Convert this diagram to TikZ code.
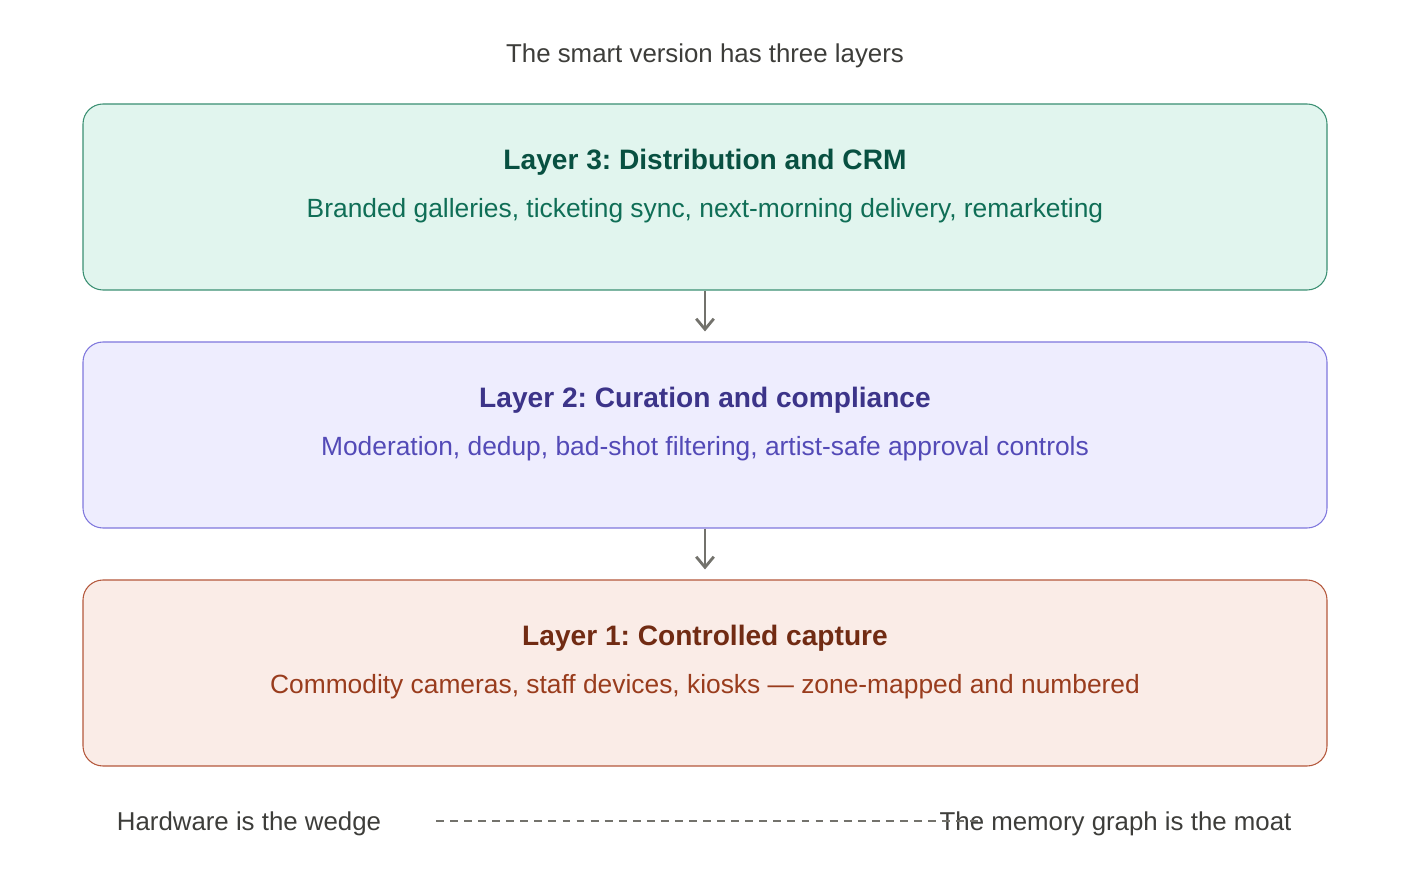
\documentclass[tikz,border=0pt]{standalone}
\usepackage{fontspec}
\setmainfont{Liberation Sans}
\usetikzlibrary{arrows.meta,positioning,calc}
\frenchspacing

\definecolor{inkgray}{HTML}{3D3D3A}
\definecolor{arrowgray}{HTML}{73726C}
\definecolor{greenfill}{HTML}{E1F5EE}
\definecolor{greenline}{HTML}{3A8F72}
\definecolor{greenhead}{HTML}{085041}
\definecolor{greentext}{HTML}{0F6E56}
\definecolor{purplefill}{HTML}{EEEDFE}
\definecolor{purpleline}{HTML}{7F77DD}
\definecolor{purplehead}{HTML}{3C3489}
\definecolor{purpletext}{HTML}{534AB7}
\definecolor{redfill}{HTML}{FAECE7}
\definecolor{redline}{HTML}{B4583C}
\definecolor{redhead}{HTML}{712B13}
\definecolor{redtext}{HTML}{993C1D}

\tikzset{
    layerbox/.style={draw, line width=0.6pt, rounded corners=0.4cm,
        minimum width=24.88cm, minimum height=3.72cm},
    headtext/.style={font=\fontsize{16}{19}\selectfont\bfseries},
    subtext/.style={font=\fontsize{15}{18}\selectfont},
    plaintext/.style={text=inkgray, font=\fontsize{14.7}{18}\selectfont},
    flowarrow/.style={draw=arrowgray, line width=1.6pt,
        -{Straight Barb[length=6pt,width=10pt,line width=1.6pt]}},
}

\begin{document}
\begin{tikzpicture}
    \useasboundingbox (0,0) rectangle (28.2,17.4);

    % Title on top
    \node[plaintext] (title) at (14.1,16.28) {The smart version has three layers};

    % Define the three layer boxes
    \node[layerbox, fill=greenfill, draw=greenline] (layer3) at (14.1,13.46) {};
    \node[layerbox, fill=purplefill, draw=purpleline] (layer2) at (14.1,8.70) {};
    \node[layerbox, fill=redfill, draw=redline] (layer1) at (14.1,3.94) {};

    % Texts inside the boxes
    \node[headtext, text=greenhead] (head3) at ($(layer3.north)+(0,-1.18)$) {Layer 3: Distribution and CRM};
    \node[subtext, text=greentext] (sub3) at ($(layer3.north)+(0,-2.14)$) {Branded galleries, ticketing sync, next-morning delivery, remarketing};
    \node[headtext, text=purplehead] (head2) at ($(layer2.north)+(0,-1.18)$) {Layer 2: Curation and compliance};
    \node[subtext, text=purpletext] (sub2) at ($(layer2.north)+(0,-2.14)$) {Moderation, dedup, bad-shot filtering, artist-safe approval controls};
    \node[headtext, text=redhead] (head1) at ($(layer1.north)+(0,-1.18)$) {Layer 1: Controlled capture};
    \node[subtext, text=redtext] (sub1) at ($(layer1.north)+(0,-2.14)$) {Commodity cameras, staff devices, kiosks — zone-mapped and numbered};

    % Arrows between the layers
    \draw[flowarrow] (layer3.south) -- ($(layer2.north)+(0,0.2)$);
    \draw[flowarrow] (layer2.south) -- ($(layer1.north)+(0,0.2)$);

    % Bottom line: wedge and moat
    \node[plaintext] (wedge) at (4.98,0.92) {Hardware is the wedge};
    \node[plaintext] (moat) at (22.31,0.92) {The memory graph is the moat};
    \coordinate[] (dashstart) at (8.72,0.98);
    \coordinate[] (dashend) at (19.56,0.98);
    \draw[arrowgray, line width=0.6pt, dash pattern=on 4.5pt off 3.5pt] (dashstart) -- (dashend);
\end{tikzpicture}
\end{document}
